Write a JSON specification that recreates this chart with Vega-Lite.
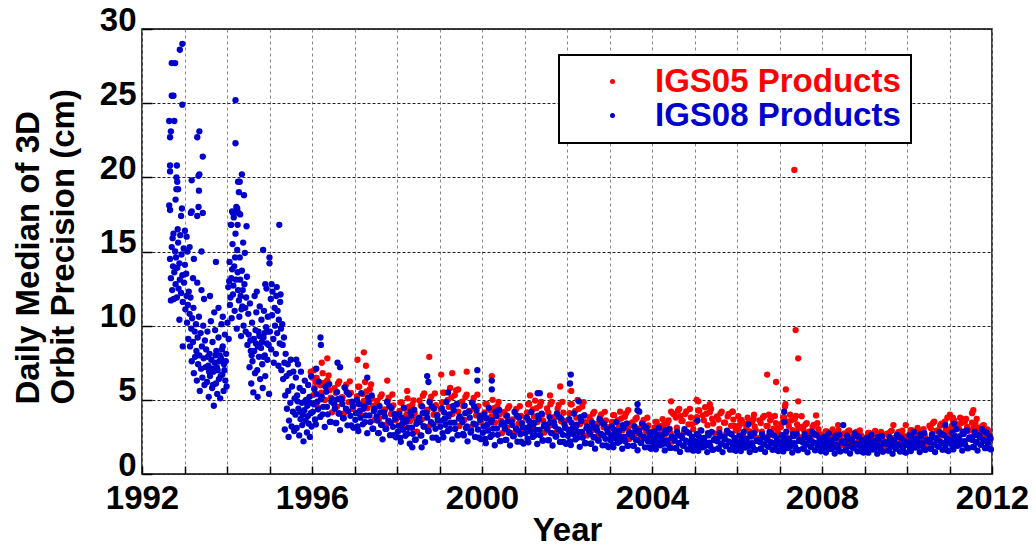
{
"$schema":"https://vega.github.io/schema/vega-lite/v6.json",
"width":850,"height":445,
"autosize":{"type":"none"},
"padding":{"left":142,"top":29,"right":44,"bottom":76},
"background":"white",
"config":{"view":{"stroke":"black","strokeWidth":1.5},"font":"Liberation Sans","legend":{"strokeWidth":2}},
"datasets":{
"r":[
{"x":1995.97,"y":6.9},{"x":1996.0,"y":6.5},{"x":1996.05,"y":7.0},{"x":1996.08,"y":6.2},{"x":1996.23,"y":7.5},{"x":1996.36,"y":7.8},{"x":1997.07,"y":7.7},{"x":1997.22,"y":8.2},{"x":1997.27,"y":7.3},{"x":1997.77,"y":6.3},{"x":1998.24,"y":5.6},{"x":1998.76,"y":7.9},{"x":1999.04,"y":6.7},{"x":1999.3,"y":6.8},{"x":1999.44,"y":5.7},{"x":1999.64,"y":6.9},{"x":2000.23,"y":6.6},{"x":2001.13,"y":5.3},{"x":2001.6,"y":5.3},{"x":2001.84,"y":5.9},{"x":2002.1,"y":5.6},{"x":2003.44,"y":4.3},{"x":2004.45,"y":4.9},{"x":2004.45,"y":4.2},{"x":2004.5,"y":4.05},{"x":2004.67,"y":3.9},{"x":2005.05,"y":5.0},{"x":2005.09,"y":4.9},{"x":2005.36,"y":4.7},{"x":2005.9,"y":4.2},{"x":2006.03,"y":3.9},{"x":2006.4,"y":4.0},{"x":2006.71,"y":6.7},{"x":2006.75,"y":4.0},{"x":2006.92,"y":6.2},{"x":2007.13,"y":4.55},{"x":2007.14,"y":4.7},{"x":2007.15,"y":5.7},{"x":2007.35,"y":20.5},{"x":2007.38,"y":9.7},{"x":2007.44,"y":7.8},{"x":2007.44,"y":4.9},{"x":2007.52,"y":3.9},{"x":2007.86,"y":3.95},{"x":2008.38,"y":3.3},{"x":2009.68,"y":3.3},{"x":2009.97,"y":3.3},{"x":2010.95,"y":3.8},{"x":2011.01,"y":4.0},{"x":2011.08,"y":3.8},{"x":2011.3,"y":3.7},{"x":2011.53,"y":4.1},{"x":2011.56,"y":4.3},
{"x":1996.03,"y":5.32},{"x":1996.085,"y":6.47},{"x":1996.14,"y":4.49},{"x":1996.195,"y":5.98},{"x":1996.25,"y":6.8},{"x":1996.305,"y":4.99},{"x":1996.36,"y":6.31},{"x":1996.415,"y":5.65},{"x":1996.47,"y":4.16},
{"x":1996.53,"y":5.78},{"x":1996.585,"y":4.54},{"x":1996.64,"y":6.25},{"x":1996.695,"y":5.16},{"x":1996.75,"y":4.08},{"x":1996.805,"y":6.03},{"x":1996.86,"y":4.85},{"x":1996.915,"y":5.47},{"x":1996.97,"y":4.39},
{"x":1997.03,"y":4.76},{"x":1997.085,"y":5.88},{"x":1997.14,"y":3.96},{"x":1997.195,"y":5.4},{"x":1997.25,"y":6.2},{"x":1997.305,"y":4.44},{"x":1997.36,"y":5.72},{"x":1997.415,"y":5.08},{"x":1997.47,"y":3.64},
{"x":1997.53,"y":4.92},{"x":1997.585,"y":3.76},{"x":1997.64,"y":5.36},{"x":1997.695,"y":4.34},{"x":1997.75,"y":3.33},{"x":1997.805,"y":5.15},{"x":1997.86,"y":4.05},{"x":1997.915,"y":4.63},{"x":1997.97,"y":3.62},
{"x":1998.03,"y":3.84},{"x":1998.085,"y":4.82},{"x":1998.14,"y":3.14},{"x":1998.195,"y":4.4},{"x":1998.25,"y":5.1},{"x":1998.305,"y":3.56},{"x":1998.36,"y":4.68},{"x":1998.415,"y":4.12},{"x":1998.47,"y":2.86},
{"x":1998.53,"y":4.96},{"x":1998.585,"y":3.68},{"x":1998.64,"y":5.44},{"x":1998.695,"y":4.32},{"x":1998.75,"y":3.2},{"x":1998.805,"y":5.22},{"x":1998.86,"y":4.0},{"x":1998.915,"y":4.64},{"x":1998.97,"y":3.52},
{"x":1999.03,"y":4.36},{"x":1999.085,"y":5.48},{"x":1999.14,"y":3.56},{"x":1999.195,"y":5.0},{"x":1999.25,"y":5.8},{"x":1999.305,"y":4.04},{"x":1999.36,"y":5.32},{"x":1999.415,"y":4.68},{"x":1999.47,"y":3.24},
{"x":1999.53,"y":4.88},{"x":1999.585,"y":3.64},{"x":1999.64,"y":5.35},{"x":1999.695,"y":4.26},{"x":1999.75,"y":3.18},{"x":1999.805,"y":5.13},{"x":1999.86,"y":3.95},{"x":1999.915,"y":4.57},{"x":1999.97,"y":3.49},
{"x":2000.03,"y":3.74},{"x":2000.085,"y":4.72},{"x":2000.14,"y":3.04},{"x":2000.195,"y":4.3},{"x":2000.25,"y":5.0},{"x":2000.305,"y":3.46},{"x":2000.36,"y":4.58},{"x":2000.415,"y":4.02},{"x":2000.47,"y":2.76},
{"x":2000.53,"y":4.18},{"x":2000.585,"y":3.14},{"x":2000.64,"y":4.57},{"x":2000.695,"y":3.66},{"x":2000.75,"y":2.75},{"x":2000.805,"y":4.39},{"x":2000.86,"y":3.4},{"x":2000.915,"y":3.92},{"x":2000.97,"y":3.01},
{"x":2001.03,"y":3.8},{"x":2001.085,"y":4.7},{"x":2001.14,"y":3.1},{"x":2001.195,"y":4.35},{"x":2001.25,"y":4.95},{"x":2001.305,"y":3.5},{"x":2001.36,"y":4.6},{"x":2001.415,"y":4.0},{"x":2001.47,"y":2.8},
{"x":2001.53,"y":4.42},{"x":2001.585,"y":3.26},{"x":2001.64,"y":4.86},{"x":2001.695,"y":3.84},{"x":2001.75,"y":2.83},{"x":2001.805,"y":4.65},{"x":2001.86,"y":3.55},{"x":2001.915,"y":4.13},{"x":2001.97,"y":3.12},
{"x":2002.03,"y":3.65},{"x":2002.085,"y":4.7},{"x":2002.14,"y":2.9},{"x":2002.195,"y":4.25},{"x":2002.25,"y":5.0},{"x":2002.305,"y":3.35},{"x":2002.36,"y":4.55},{"x":2002.415,"y":3.95},{"x":2002.47,"y":2.6},
{"x":2002.53,"y":3.84},{"x":2002.585,"y":2.92},{"x":2002.64,"y":4.19},{"x":2002.695,"y":3.38},{"x":2002.75,"y":2.58},{"x":2002.805,"y":4.02},{"x":2002.86,"y":3.15},{"x":2002.915,"y":3.61},{"x":2002.97,"y":2.81},
{"x":2003.03,"y":3.17},{"x":2003.085,"y":3.97},{"x":2003.14,"y":2.59},{"x":2003.195,"y":3.63},{"x":2003.25,"y":4.2},{"x":2003.305,"y":2.94},{"x":2003.36,"y":3.86},{"x":2003.415,"y":3.4},{"x":2003.47,"y":2.36},
{"x":2003.53,"y":3.48},{"x":2003.585,"y":2.64},{"x":2003.64,"y":3.8},{"x":2003.695,"y":3.06},{"x":2003.75,"y":2.33},{"x":2003.805,"y":3.65},{"x":2003.86,"y":2.85},{"x":2003.915,"y":3.27},{"x":2003.97,"y":2.54},
{"x":2004.03,"y":2.85},{"x":2004.085,"y":3.51},{"x":2004.14,"y":2.37},{"x":2004.195,"y":3.23},{"x":2004.25,"y":3.7},{"x":2004.305,"y":2.66},{"x":2004.36,"y":3.42},{"x":2004.415,"y":3.04},{"x":2004.47,"y":2.18},
{"x":2004.53,"y":4.04},{"x":2004.585,"y":3.12},{"x":2004.64,"y":4.39},{"x":2004.695,"y":3.58},{"x":2004.75,"y":2.78},{"x":2004.805,"y":4.22},{"x":2004.86,"y":3.35},{"x":2004.915,"y":3.81},{"x":2004.97,"y":3.01},
{"x":2005.03,"y":3.51},{"x":2005.085,"y":4.28},{"x":2005.14,"y":2.96},{"x":2005.195,"y":3.95},{"x":2005.25,"y":4.5},{"x":2005.305,"y":3.29},{"x":2005.36,"y":4.17},{"x":2005.415,"y":3.73},{"x":2005.47,"y":2.74},
{"x":2005.53,"y":3.88},{"x":2005.585,"y":3.04},{"x":2005.64,"y":4.2},{"x":2005.695,"y":3.46},{"x":2005.75,"y":2.73},{"x":2005.805,"y":4.05},{"x":2005.86,"y":3.25},{"x":2005.915,"y":3.67},{"x":2005.97,"y":2.94},
{"x":2006.03,"y":3.04},{"x":2006.085,"y":3.63},{"x":2006.14,"y":2.61},{"x":2006.195,"y":3.38},{"x":2006.25,"y":3.8},{"x":2006.305,"y":2.87},{"x":2006.36,"y":3.55},{"x":2006.415,"y":3.21},{"x":2006.47,"y":2.44},
{"x":2006.53,"y":3.62},{"x":2006.585,"y":2.86},{"x":2006.64,"y":3.91},{"x":2006.695,"y":3.24},{"x":2006.75,"y":2.58},{"x":2006.805,"y":3.77},{"x":2006.86,"y":3.05},{"x":2006.915,"y":3.43},{"x":2006.97,"y":2.77},
{"x":2007.03,"y":3.15},{"x":2007.085,"y":3.81},{"x":2007.14,"y":2.67},{"x":2007.195,"y":3.53},{"x":2007.25,"y":4.0},{"x":2007.305,"y":2.96},{"x":2007.36,"y":3.72},{"x":2007.415,"y":3.34},{"x":2007.47,"y":2.48},
{"x":2007.53,"y":3.18},{"x":2007.585,"y":2.54},{"x":2007.64,"y":3.42},{"x":2007.695,"y":2.86},{"x":2007.75,"y":2.3},{"x":2007.805,"y":3.31},{"x":2007.86,"y":2.7},{"x":2007.915,"y":3.02},{"x":2007.97,"y":2.46},
{"x":2008.03,"y":2.42},{"x":2008.085,"y":2.87},{"x":2008.14,"y":2.09},{"x":2008.195,"y":2.68},{"x":2008.25,"y":3.0},{"x":2008.305,"y":2.29},{"x":2008.36,"y":2.81},{"x":2008.415,"y":2.55},{"x":2008.47,"y":1.96},
{"x":2008.53,"y":2.74},{"x":2008.585,"y":2.22},{"x":2008.64,"y":2.94},{"x":2008.695,"y":2.48},{"x":2008.75,"y":2.03},{"x":2008.805,"y":2.84},{"x":2008.86,"y":2.35},{"x":2008.915,"y":2.61},{"x":2008.97,"y":2.16},
{"x":2009.03,"y":2.32},{"x":2009.085,"y":2.77},{"x":2009.14,"y":1.99},{"x":2009.195,"y":2.58},{"x":2009.25,"y":2.9},{"x":2009.305,"y":2.19},{"x":2009.36,"y":2.71},{"x":2009.415,"y":2.45},{"x":2009.47,"y":1.86},
{"x":2009.53,"y":2.72},{"x":2009.585,"y":2.16},{"x":2009.64,"y":2.93},{"x":2009.695,"y":2.44},{"x":2009.75,"y":1.95},{"x":2009.805,"y":2.83},{"x":2009.86,"y":2.3},{"x":2009.915,"y":2.58},{"x":2009.97,"y":2.09},
{"x":2010.03,"y":2.47},{"x":2010.085,"y":2.96},{"x":2010.14,"y":2.12},{"x":2010.195,"y":2.75},{"x":2010.25,"y":3.1},{"x":2010.305,"y":2.33},{"x":2010.36,"y":2.89},{"x":2010.415,"y":2.61},{"x":2010.47,"y":1.98},
{"x":2010.53,"y":3.26},{"x":2010.585,"y":2.58},{"x":2010.64,"y":3.52},{"x":2010.695,"y":2.92},{"x":2010.75,"y":2.33},{"x":2010.805,"y":3.4},{"x":2010.86,"y":2.75},{"x":2010.915,"y":3.09},{"x":2010.97,"y":2.5},
{"x":2011.03,"y":2.99},{"x":2011.085,"y":3.62},{"x":2011.14,"y":2.54},{"x":2011.195,"y":3.35},{"x":2011.25,"y":3.8},{"x":2011.305,"y":2.81},{"x":2011.36,"y":3.53},{"x":2011.415,"y":3.17},{"x":2011.47,"y":2.36},
{"x":2011.53,"y":3.46},{"x":2011.585,"y":2.78},{"x":2011.64,"y":3.72},{"x":2011.695,"y":3.12},{"x":2011.75,"y":2.53},{"x":2011.805,"y":3.3},{"x":2011.86,"y":2.65},{"x":2011.915,"y":2.9},{"x":2011.97,"y":2.4},
{"x":1996.06,"y":5.81},{"x":1996.11,"y":6.47},{"x":1996.22,"y":5.48},{"x":1996.28,"y":6.14},{"x":1996.39,"y":6.64},{"x":1996.44,"y":5.15},
{"x":1996.56,"y":5.47},{"x":1996.61,"y":6.09},{"x":1996.72,"y":5.16},{"x":1996.78,"y":5.78},{"x":1996.89,"y":6.25},{"x":1996.94,"y":4.85},
{"x":1997.06,"y":5.24},{"x":1997.11,"y":5.88},{"x":1997.22,"y":4.92},{"x":1997.28,"y":5.56},{"x":1997.39,"y":6.04},{"x":1997.44,"y":4.6},
{"x":1997.56,"y":4.63},{"x":1997.61,"y":5.21},{"x":1997.72,"y":4.34},{"x":1997.78,"y":4.92},{"x":1997.89,"y":5.36},{"x":1997.94,"y":4.05},
{"x":1998.06,"y":4.26},{"x":1998.11,"y":4.82},{"x":1998.22,"y":3.98},{"x":1998.28,"y":4.54},{"x":1998.39,"y":4.96},{"x":1998.44,"y":3.7},
{"x":1998.56,"y":4.64},{"x":1998.61,"y":5.28},{"x":1998.72,"y":4.32},{"x":1998.78,"y":4.96},{"x":1998.89,"y":5.44},{"x":1998.94,"y":4.0},
{"x":1999.06,"y":4.84},{"x":1999.11,"y":5.48},{"x":1999.22,"y":4.52},{"x":1999.28,"y":5.16},{"x":1999.39,"y":5.64},{"x":1999.44,"y":4.2},
{"x":1999.56,"y":4.57},{"x":1999.61,"y":5.19},{"x":1999.72,"y":4.26},{"x":1999.78,"y":4.88},{"x":1999.89,"y":5.35},{"x":1999.94,"y":3.95},
{"x":2000.06,"y":4.16},{"x":2000.11,"y":4.72},{"x":2000.22,"y":3.88},{"x":2000.28,"y":4.44},{"x":2000.39,"y":4.86},{"x":2000.44,"y":3.6},
{"x":2000.56,"y":3.92},{"x":2000.61,"y":4.44},{"x":2000.72,"y":3.66},{"x":2000.78,"y":4.18},{"x":2000.89,"y":4.57},{"x":2000.94,"y":3.4},
{"x":2001.06,"y":4.16},{"x":2001.11,"y":4.72},{"x":2001.22,"y":3.88},{"x":2001.28,"y":4.44},{"x":2001.39,"y":4.86},{"x":2001.44,"y":3.6},
{"x":2001.56,"y":4.13},{"x":2001.61,"y":4.71},{"x":2001.72,"y":3.84},{"x":2001.78,"y":4.42},{"x":2001.89,"y":4.86},{"x":2001.94,"y":3.55},
{"x":2002.06,"y":4.1},{"x":2002.11,"y":4.7},{"x":2002.22,"y":3.8},{"x":2002.28,"y":4.4},{"x":2002.39,"y":4.85},{"x":2002.44,"y":3.5},
{"x":2002.56,"y":3.61},{"x":2002.61,"y":4.07},{"x":2002.72,"y":3.38},{"x":2002.78,"y":3.84},{"x":2002.89,"y":4.19},{"x":2002.94,"y":3.15},
{"x":2003.06,"y":3.51},{"x":2003.11,"y":3.97},{"x":2003.22,"y":3.28},{"x":2003.28,"y":3.74},{"x":2003.39,"y":4.09},{"x":2003.44,"y":3.05},
{"x":2003.56,"y":3.27},{"x":2003.61,"y":3.69},{"x":2003.72,"y":3.06},{"x":2003.78,"y":3.48},{"x":2003.89,"y":3.8},{"x":2003.94,"y":2.85},
{"x":2004.06,"y":3.13},{"x":2004.11,"y":3.51},{"x":2004.22,"y":2.94},{"x":2004.28,"y":3.32},{"x":2004.39,"y":3.61},{"x":2004.44,"y":2.75},
{"x":2004.56,"y":3.81},{"x":2004.61,"y":4.27},{"x":2004.72,"y":3.58},{"x":2004.78,"y":4.04},{"x":2004.89,"y":4.39},{"x":2004.94,"y":3.35},
{"x":2005.06,"y":3.84},{"x":2005.11,"y":4.28},{"x":2005.22,"y":3.62},{"x":2005.28,"y":4.06},{"x":2005.39,"y":4.39},{"x":2005.44,"y":3.4},
{"x":2005.56,"y":3.67},{"x":2005.61,"y":4.09},{"x":2005.72,"y":3.46},{"x":2005.78,"y":3.88},{"x":2005.89,"y":4.2},{"x":2005.94,"y":3.25},
{"x":2006.06,"y":3.29},{"x":2006.11,"y":3.63},{"x":2006.22,"y":3.12},{"x":2006.28,"y":3.46},{"x":2006.39,"y":3.72},{"x":2006.44,"y":2.95},
{"x":2006.56,"y":3.43},{"x":2006.61,"y":3.81},{"x":2006.72,"y":3.24},{"x":2006.78,"y":3.62},{"x":2006.89,"y":3.91},{"x":2006.94,"y":3.05},
{"x":2007.06,"y":3.43},{"x":2007.11,"y":3.81},{"x":2007.22,"y":3.24},{"x":2007.28,"y":3.62},{"x":2007.39,"y":3.91},{"x":2007.44,"y":3.05},
{"x":2007.56,"y":3.02},{"x":2007.61,"y":3.34},{"x":2007.72,"y":2.86},{"x":2007.78,"y":3.18},{"x":2007.89,"y":3.42},{"x":2007.94,"y":2.7},
{"x":2008.06,"y":2.61},{"x":2008.11,"y":2.87},{"x":2008.22,"y":2.48},{"x":2008.28,"y":2.74},{"x":2008.39,"y":2.94},{"x":2008.44,"y":2.35},
{"x":2008.56,"y":2.61},{"x":2008.61,"y":2.87},{"x":2008.72,"y":2.48},{"x":2008.78,"y":2.74},{"x":2008.89,"y":2.94},{"x":2008.94,"y":2.35},
{"x":2009.06,"y":2.51},{"x":2009.11,"y":2.77},{"x":2009.22,"y":2.38},{"x":2009.28,"y":2.64},{"x":2009.39,"y":2.84},{"x":2009.44,"y":2.25},
{"x":2009.56,"y":2.58},{"x":2009.61,"y":2.86},{"x":2009.72,"y":2.44},{"x":2009.78,"y":2.72},{"x":2009.89,"y":2.93},{"x":2009.94,"y":2.3},
{"x":2010.06,"y":2.68},{"x":2010.11,"y":2.96},{"x":2010.22,"y":2.54},{"x":2010.28,"y":2.82},{"x":2010.39,"y":3.03},{"x":2010.44,"y":2.4},
{"x":2010.56,"y":3.09},{"x":2010.61,"y":3.43},{"x":2010.72,"y":2.92},{"x":2010.78,"y":3.26},{"x":2010.89,"y":3.52},{"x":2010.94,"y":2.75},
{"x":2011.06,"y":3.26},{"x":2011.11,"y":3.62},{"x":2011.22,"y":3.08},{"x":2011.28,"y":3.44},{"x":2011.39,"y":3.71},{"x":2011.44,"y":2.9},
{"x":2011.56,"y":3.09},{"x":2011.61,"y":3.43},{"x":2011.72,"y":2.92},{"x":2011.78,"y":3.26},{"x":2011.89,"y":3.0},{"x":2011.94,"y":2.6}
],
"b":[
{"x":1992.95,"y":29.0},{"x":1992.89,"y":28.6},{"x":1992.7,"y":27.7},{"x":1992.78,"y":27.7},{"x":1992.7,"y":25.5},{"x":1992.74,"y":25.5},{"x":1992.95,"y":24.9},{"x":1992.64,"y":23.8},{"x":1992.76,"y":23.8},{"x":1992.68,"y":23.1},{"x":1992.66,"y":22.7},{"x":1993.35,"y":23.1},{"x":1993.3,"y":22.7},{"x":1993.43,"y":21.4},{"x":1992.66,"y":20.8},{"x":1992.82,"y":20.8},{"x":1992.66,"y":20.4},{"x":1992.81,"y":20.0},{"x":1992.83,"y":19.7},{"x":1993.17,"y":19.8},{"x":1993.33,"y":20.1},{"x":1993.35,"y":20.2},{"x":1992.85,"y":19.2},{"x":1992.81,"y":19.2},{"x":1993.34,"y":19.1},{"x":1992.79,"y":18.5},{"x":1992.64,"y":18.1},{"x":1992.66,"y":17.8},{"x":1992.94,"y":17.9},{"x":1993.15,"y":17.6},{"x":1993.17,"y":17.7},{"x":1993.33,"y":18.0},{"x":1993.43,"y":17.6},{"x":1993.3,"y":17.4},{"x":1992.92,"y":17.4},{"x":1994.2,"y":25.2},{"x":1994.2,"y":22.3},{"x":1994.35,"y":20.2},{"x":1994.26,"y":19.7},{"x":1994.3,"y":19.7},{"x":1994.28,"y":19.0},{"x":1994.4,"y":18.8},{"x":1994.14,"y":17.6},{"x":1994.24,"y":17.9},{"x":1994.31,"y":17.5},{"x":1994.1,"y":16.8},{"x":1994.25,"y":16.8},{"x":1994.46,"y":16.7},{"x":1995.23,"y":16.8},{"x":1993.74,"y":14.3},{"x":1994.85,"y":15.1},{"x":1995.0,"y":14.6},{"x":1995.0,"y":14.2},{"x":1993.01,"y":16.4},{"x":1993.4,"y":15.0},{"x":1993.22,"y":14.5},{"x":1993.12,"y":15.3},{"x":1993.05,"y":16.0},
{"x":1992.66,"y":14.5},{"x":1992.68,"y":13.2},{"x":1992.7,"y":15.3},{"x":1992.71,"y":12.4},{"x":1992.73,"y":14.0},{"x":1992.74,"y":16.2},{"x":1992.75,"y":11.8},{"x":1992.76,"y":13.6},{"x":1992.78,"y":15.0},{"x":1992.79,"y":12.8},{"x":1992.8,"y":14.6},{"x":1992.82,"y":11.9},{"x":1992.83,"y":13.9},{"x":1992.85,"y":15.6},{"x":1992.86,"y":12.5},{"x":1992.88,"y":14.2},{"x":1992.89,"y":13.1},{"x":1992.9,"y":16.1},{"x":1992.92,"y":12.2},{"x":1992.93,"y":14.8},{"x":1992.95,"y":13.4},{"x":1992.96,"y":11.6},{"x":1992.98,"y":15.2},{"x":1992.99,"y":12.9},{"x":1993.01,"y":14.1},{"x":1993.02,"y":11.1},{"x":1993.04,"y":13.5},{"x":1993.05,"y":12.0},{"x":1993.07,"y":15.0},{"x":1992.68,"y":11.7},{"x":1992.88,"y":10.4},{"x":1992.96,"y":8.6},{"x":1992.72,"y":15.9},{"x":1992.84,"y":16.5},
{"x":1993.06,"y":10.2},{"x":1993.08,"y":11.4},{"x":1993.09,"y":9.1},{"x":1993.1,"y":12.3},{"x":1993.12,"y":10.8},{"x":1993.13,"y":8.6},{"x":1993.14,"y":11.9},{"x":1993.16,"y":9.8},{"x":1993.17,"y":7.6},{"x":1993.18,"y":10.5},{"x":1993.2,"y":8.9},{"x":1993.21,"y":11.2},{"x":1993.22,"y":6.8},{"x":1993.24,"y":9.6},{"x":1993.25,"y":7.9},{"x":1993.27,"y":10.1},{"x":1993.28,"y":8.3},{"x":1993.29,"y":6.3},{"x":1993.31,"y":9.2},{"x":1993.32,"y":7.4},{"x":1993.34,"y":10.6},{"x":1993.35,"y":8.0},{"x":1993.36,"y":5.6},{"x":1993.38,"y":9.5},{"x":1993.39,"y":7.1},{"x":1993.41,"y":8.6},{"x":1993.42,"y":6.5},{"x":1993.44,"y":10.0},{"x":1993.45,"y":7.8},{"x":1993.47,"y":6.0},{"x":1993.48,"y":9.0},{"x":1993.5,"y":7.2},{"x":1993.4,"y":12.4},{"x":1993.3,"y":12.9},{"x":1993.2,"y":13.2},{"x":1993.46,"y":11.8},
{"x":1993.51,"y":8.4},{"x":1993.53,"y":6.2},{"x":1993.54,"y":9.6},{"x":1993.56,"y":7.3},{"x":1993.57,"y":5.2},{"x":1993.59,"y":8.1},{"x":1993.6,"y":6.6},{"x":1993.62,"y":10.3},{"x":1993.63,"y":7.7},{"x":1993.65,"y":5.8},{"x":1993.66,"y":8.9},{"x":1993.68,"y":6.9},{"x":1993.69,"y":4.6},{"x":1993.71,"y":7.5},{"x":1993.72,"y":9.7},{"x":1993.74,"y":6.1},{"x":1993.75,"y":8.3},{"x":1993.77,"y":5.4},{"x":1993.78,"y":7.0},{"x":1993.8,"y":9.2},{"x":1993.81,"y":6.4},{"x":1993.83,"y":8.0},{"x":1993.84,"y":5.1},{"x":1993.86,"y":7.8},{"x":1993.87,"y":10.1},{"x":1993.89,"y":6.7},{"x":1993.9,"y":8.6},{"x":1993.92,"y":5.6},{"x":1993.93,"y":7.4},{"x":1993.95,"y":9.4},{"x":1993.96,"y":6.3},{"x":1993.98,"y":8.1},{"x":1993.99,"y":5.9},{"x":1993.6,"y":12.0},{"x":1993.8,"y":11.2},{"x":1993.7,"y":10.9},{"x":1993.9,"y":10.6},
{"x":1993.55,"y":7.9},{"x":1993.58,"y":6.9},{"x":1993.64,"y":7.1},{"x":1993.67,"y":6.0},{"x":1993.73,"y":8.0},{"x":1993.76,"y":7.2},{"x":1993.82,"y":7.6},{"x":1993.85,"y":6.6},{"x":1993.88,"y":8.4},{"x":1993.94,"y":7.0},{"x":1993.97,"y":7.6},
{"x":1994.01,"y":10.2},{"x":1994.03,"y":12.6},{"x":1994.04,"y":9.1},{"x":1994.06,"y":14.3},{"x":1994.07,"y":11.4},{"x":1994.09,"y":16.8},{"x":1994.1,"y":13.2},{"x":1994.11,"y":10.5},{"x":1994.13,"y":15.5},{"x":1994.14,"y":12.1},{"x":1994.16,"y":17.3},{"x":1994.17,"y":14.0},{"x":1994.18,"y":11.0},{"x":1994.2,"y":16.2},{"x":1994.21,"y":13.1},{"x":1994.23,"y":9.8},{"x":1994.24,"y":15.1},{"x":1994.26,"y":12.4},{"x":1994.27,"y":17.6},{"x":1994.29,"y":10.6},{"x":1994.3,"y":14.6},{"x":1994.32,"y":12.0},{"x":1994.33,"y":9.3},{"x":1994.35,"y":13.7},{"x":1994.36,"y":11.3},{"x":1994.38,"y":15.6},{"x":1994.39,"y":10.0},{"x":1994.41,"y":12.8},{"x":1994.42,"y":14.9},{"x":1994.44,"y":9.6},{"x":1994.45,"y":11.9},{"x":1994.47,"y":13.3},{"x":1994.48,"y":8.7},{"x":1994.5,"y":10.8},{"x":1994.22,"y":18.0},{"x":1994.12,"y":17.7},
{"x":1994.05,"y":13.0},{"x":1994.08,"y":11.9},{"x":1994.12,"y":13.8},{"x":1994.15,"y":12.7},{"x":1994.19,"y":14.6},{"x":1994.25,"y":13.6},{"x":1994.28,"y":11.7},{"x":1994.31,"y":13.1},{"x":1994.34,"y":11.1},{"x":1994.37,"y":12.4},{"x":1994.43,"y":11.2},
{"x":1994.51,"y":9.4},{"x":1994.53,"y":7.2},{"x":1994.54,"y":11.5},{"x":1994.56,"y":8.3},{"x":1994.57,"y":6.1},{"x":1994.59,"y":10.2},{"x":1994.6,"y":7.6},{"x":1994.62,"y":5.5},{"x":1994.63,"y":9.1},{"x":1994.65,"y":12.0},{"x":1994.66,"y":6.8},{"x":1994.68,"y":8.8},{"x":1994.69,"y":10.9},{"x":1994.71,"y":7.0},{"x":1994.72,"y":5.2},{"x":1994.74,"y":9.6},{"x":1994.75,"y":7.9},{"x":1994.77,"y":11.3},{"x":1994.78,"y":6.4},{"x":1994.8,"y":8.5},{"x":1994.81,"y":10.4},{"x":1994.83,"y":7.4},{"x":1994.84,"y":5.8},{"x":1994.86,"y":9.2},{"x":1994.87,"y":11.0},{"x":1994.89,"y":8.0},{"x":1994.9,"y":6.6},{"x":1994.92,"y":9.9},{"x":1994.93,"y":12.5},{"x":1994.95,"y":7.7},{"x":1994.96,"y":10.6},{"x":1994.98,"y":8.7},{"x":1994.99,"y":5.4},{"x":1994.7,"y":12.3},{"x":1994.9,"y":12.8},
{"x":1994.55,"y":9.0},{"x":1994.58,"y":8.0},{"x":1994.64,"y":8.3},{"x":1994.67,"y":9.7},{"x":1994.73,"y":8.6},{"x":1994.76,"y":9.3},{"x":1994.82,"y":8.9},{"x":1994.85,"y":7.9},{"x":1994.88,"y":9.5},{"x":1994.94,"y":8.8},{"x":1994.97,"y":9.6},
{"x":1995.01,"y":9.6},{"x":1995.03,"y":11.8},{"x":1995.04,"y":8.4},{"x":1995.06,"y":10.7},{"x":1995.07,"y":12.3},{"x":1995.09,"y":9.1},{"x":1995.1,"y":7.5},{"x":1995.12,"y":11.2},{"x":1995.13,"y":10.0},{"x":1995.15,"y":8.1},{"x":1995.16,"y":12.0},{"x":1995.18,"y":9.5},{"x":1995.19,"y":11.0},{"x":1995.21,"y":7.3},{"x":1995.22,"y":10.4},{"x":1995.24,"y":8.8},{"x":1995.25,"y":11.6},{"x":1995.27,"y":9.8},{"x":1995.28,"y":7.0},{"x":1995.3,"y":10.1},{"x":1995.05,"y":12.8},{"x":1995.17,"y":12.6},{"x":1995.26,"y":12.1},
{"x":1995.31,"y":8.7},{"x":1995.32,"y":6.4},{"x":1995.34,"y":9.2},{"x":1995.35,"y":7.5},{"x":1995.37,"y":5.3},{"x":1995.38,"y":8.1},{"x":1995.4,"y":6.6},{"x":1995.41,"y":4.4},{"x":1995.43,"y":7.4},{"x":1995.44,"y":5.6},{"x":1995.46,"y":3.6},{"x":1995.47,"y":6.8},{"x":1995.49,"y":4.8},{"x":1995.5,"y":7.7},{"x":1995.52,"y":3.2},{"x":1995.53,"y":5.9},{"x":1995.55,"y":4.2},{"x":1995.56,"y":6.9},{"x":1995.58,"y":2.9},{"x":1995.59,"y":5.1},{"x":1995.36,"y":3.0},{"x":1995.45,"y":2.5},
{"x":1995.61,"y":4.0},{"x":1995.62,"y":6.5},{"x":1995.64,"y":3.1},{"x":1995.65,"y":5.3},{"x":1995.67,"y":7.4},{"x":1995.68,"y":4.4},{"x":1995.7,"y":2.6},{"x":1995.71,"y":5.8},{"x":1995.73,"y":3.7},{"x":1995.74,"y":6.9},{"x":1995.76,"y":4.8},{"x":1995.77,"y":3.3},{"x":1995.79,"y":5.6},{"x":1995.8,"y":2.2},{"x":1995.82,"y":4.3},{"x":1995.83,"y":6.3},{"x":1995.85,"y":3.6},{"x":1995.86,"y":5.0},{"x":1995.88,"y":2.8},{"x":1995.89,"y":4.6},{"x":1995.91,"y":6.0},{"x":1995.92,"y":3.4},{"x":1995.94,"y":5.2},{"x":1995.95,"y":2.5},{"x":1995.97,"y":4.1},{"x":1995.98,"y":6.6},{"x":1995.99,"y":3.2},{"x":1995.63,"y":7.7},
{"x":1995.66,"y":4.9},{"x":1995.72,"y":4.2},{"x":1995.78,"y":4.0},{"x":1995.84,"y":4.9},{"x":1995.9,"y":3.9},{"x":1995.96,"y":4.8},
{"x":1996.2,"y":9.2},{"x":1996.21,"y":8.7},{"x":1996.1,"y":7.1},{"x":1996.6,"y":7.5},{"x":1996.66,"y":7.2},{"x":1997.3,"y":6.5},{"x":1998.71,"y":6.6},{"x":1998.74,"y":6.2},{"x":1999.89,"y":7.0},{"x":1999.89,"y":6.3},{"x":2000.23,"y":6.3},{"x":2000.23,"y":5.7},{"x":2001.31,"y":5.45},{"x":2001.36,"y":5.45},{"x":2002.09,"y":6.7},{"x":2002.07,"y":6.1},{"x":2002.28,"y":4.9},{"x":2003.66,"y":4.7},{"x":2003.66,"y":4.3},{"x":2003.7,"y":4.2},{"x":2005.07,"y":3.6},{"x":2006.27,"y":3.35},{"x":2007.11,"y":4.2},{"x":2007.11,"y":3.5},{"x":2008.5,"y":3.3},{"x":2010.9,"y":3.3},{"x":2011.1,"y":3.4},{"x":1999.2,"y":5.5},{"x":1998.36,"y":1.8},{"x":1998.58,"y":1.8},
{"x":1996.02,"y":4.19},{"x":1996.055,"y":5.72},{"x":1996.09,"y":3.34},{"x":1996.125,"y":4.87},{"x":1996.16,"y":6.23},{"x":1996.195,"y":3.85},{"x":1996.23,"y":5.21},{"x":1996.265,"y":4.53},{"x":1996.3,"y":3.17},{"x":1996.335,"y":5.55},{"x":1996.37,"y":4.02},{"x":1996.405,"y":6.06},{"x":1996.44,"y":3.51},{"x":1996.475,"y":5.04},
{"x":1996.52,"y":4.72},{"x":1996.555,"y":3.44},{"x":1996.59,"y":5.52},{"x":1996.625,"y":4.08},{"x":1996.66,"y":2.96},{"x":1996.695,"y":5.04},{"x":1996.73,"y":3.76},{"x":1996.765,"y":5.84},{"x":1996.8,"y":4.4},{"x":1996.835,"y":3.28},{"x":1996.87,"y":5.36},{"x":1996.905,"y":3.92},{"x":1996.94,"y":4.88},{"x":1996.975,"y":3.12},
{"x":1997.02,"y":3.65},{"x":1997.055,"y":5.0},{"x":1997.09,"y":2.9},{"x":1997.125,"y":4.25},{"x":1997.16,"y":5.45},{"x":1997.195,"y":3.35},{"x":1997.23,"y":4.55},{"x":1997.265,"y":3.95},{"x":1997.3,"y":2.75},{"x":1997.335,"y":4.85},{"x":1997.37,"y":3.5},{"x":1997.405,"y":5.3},{"x":1997.44,"y":3.05},{"x":1997.475,"y":4.4},
{"x":1997.52,"y":3.88},{"x":1997.555,"y":2.76},{"x":1997.59,"y":4.58},{"x":1997.625,"y":3.32},{"x":1997.66,"y":2.34},{"x":1997.695,"y":4.16},{"x":1997.73,"y":3.04},{"x":1997.765,"y":4.86},{"x":1997.8,"y":3.6},{"x":1997.835,"y":2.62},{"x":1997.87,"y":4.44},{"x":1997.905,"y":3.18},{"x":1997.94,"y":4.02},{"x":1997.975,"y":2.48},
{"x":1998.02,"y":2.85},{"x":1998.055,"y":4.06},{"x":1998.09,"y":2.17},{"x":1998.125,"y":3.39},{"x":1998.16,"y":4.47},{"x":1998.195,"y":2.58},{"x":1998.23,"y":3.66},{"x":1998.265,"y":3.12},{"x":1998.3,"y":2.04},{"x":1998.335,"y":3.93},{"x":1998.37,"y":2.71},{"x":1998.405,"y":4.33},{"x":1998.44,"y":2.31},{"x":1998.475,"y":3.52},
{"x":1998.52,"y":3.8},{"x":1998.555,"y":2.6},{"x":1998.59,"y":4.55},{"x":1998.625,"y":3.2},{"x":1998.66,"y":2.15},{"x":1998.695,"y":4.1},{"x":1998.73,"y":2.9},{"x":1998.765,"y":4.85},{"x":1998.8,"y":3.5},{"x":1998.835,"y":2.45},{"x":1998.87,"y":4.4},{"x":1998.905,"y":3.05},{"x":1998.94,"y":3.95},{"x":1998.975,"y":2.3},
{"x":1999.02,"y":3.18},{"x":1999.055,"y":4.44},{"x":1999.09,"y":2.48},{"x":1999.125,"y":3.74},{"x":1999.16,"y":4.86},{"x":1999.195,"y":2.9},{"x":1999.23,"y":4.02},{"x":1999.265,"y":3.46},{"x":1999.3,"y":2.34},{"x":1999.335,"y":4.3},{"x":1999.37,"y":3.04},{"x":1999.405,"y":4.72},{"x":1999.44,"y":2.62},{"x":1999.475,"y":3.88},
{"x":1999.52,"y":3.7},{"x":1999.555,"y":2.7},{"x":1999.59,"y":4.6},{"x":1999.625,"y":3.1},{"x":1999.66,"y":2.2},{"x":1999.695,"y":4.2},{"x":1999.73,"y":2.8},{"x":1999.765,"y":4.8},{"x":1999.8,"y":3.4},{"x":1999.835,"y":2.5},{"x":1999.87,"y":4.3},{"x":1999.905,"y":3.0},{"x":1999.94,"y":3.9},{"x":1999.975,"y":2.35},
{"x":2000.02,"y":2.78},{"x":2000.055,"y":4.04},{"x":2000.09,"y":2.08},{"x":2000.125,"y":3.34},{"x":2000.16,"y":4.46},{"x":2000.195,"y":2.5},{"x":2000.23,"y":3.62},{"x":2000.265,"y":3.06},{"x":2000.3,"y":1.94},{"x":2000.335,"y":3.9},{"x":2000.37,"y":2.64},{"x":2000.405,"y":4.32},{"x":2000.44,"y":2.22},{"x":2000.475,"y":3.48},
{"x":2000.52,"y":3.3},{"x":2000.555,"y":2.3},{"x":2000.59,"y":3.93},{"x":2000.625,"y":2.8},{"x":2000.66,"y":1.93},{"x":2000.695,"y":3.55},{"x":2000.73,"y":2.55},{"x":2000.765,"y":4.18},{"x":2000.8,"y":3.05},{"x":2000.835,"y":2.18},{"x":2000.87,"y":3.8},{"x":2000.905,"y":2.68},{"x":2000.94,"y":3.43},{"x":2000.975,"y":2.05},
{"x":2001.02,"y":2.74},{"x":2001.055,"y":3.82},{"x":2001.09,"y":2.14},{"x":2001.125,"y":3.22},{"x":2001.16,"y":4.18},{"x":2001.195,"y":2.5},{"x":2001.23,"y":3.46},{"x":2001.265,"y":2.98},{"x":2001.3,"y":2.02},{"x":2001.335,"y":3.7},{"x":2001.37,"y":2.62},{"x":2001.405,"y":4.06},{"x":2001.44,"y":2.26},{"x":2001.475,"y":3.34},
{"x":2001.52,"y":3.24},{"x":2001.555,"y":2.28},{"x":2001.59,"y":3.84},{"x":2001.625,"y":2.76},{"x":2001.66,"y":1.92},{"x":2001.695,"y":3.48},{"x":2001.73,"y":2.52},{"x":2001.765,"y":4.08},{"x":2001.8,"y":3.0},{"x":2001.835,"y":2.16},{"x":2001.87,"y":3.72},{"x":2001.905,"y":2.64},{"x":2001.94,"y":3.36},{"x":2001.975,"y":2.04},
{"x":2002.02,"y":2.58},{"x":2002.055,"y":3.7},{"x":2002.09,"y":1.95},{"x":2002.125,"y":3.08},{"x":2002.16,"y":4.08},{"x":2002.195,"y":2.33},{"x":2002.23,"y":3.33},{"x":2002.265,"y":2.83},{"x":2002.3,"y":1.83},{"x":2002.335,"y":3.58},{"x":2002.37,"y":2.45},{"x":2002.405,"y":3.95},{"x":2002.44,"y":2.08},{"x":2002.475,"y":3.2},
{"x":2002.52,"y":2.92},{"x":2002.555,"y":2.04},{"x":2002.59,"y":3.47},{"x":2002.625,"y":2.48},{"x":2002.66,"y":1.71},{"x":2002.695,"y":3.14},{"x":2002.73,"y":2.26},{"x":2002.765,"y":3.69},{"x":2002.8,"y":2.7},{"x":2002.835,"y":1.93},{"x":2002.87,"y":3.36},{"x":2002.905,"y":2.37},{"x":2002.94,"y":3.03},{"x":2002.975,"y":1.82},
{"x":2003.02,"y":2.3},{"x":2003.055,"y":3.2},{"x":2003.09,"y":1.8},{"x":2003.125,"y":2.7},{"x":2003.16,"y":3.5},{"x":2003.195,"y":2.1},{"x":2003.23,"y":2.9},{"x":2003.265,"y":2.5},{"x":2003.3,"y":1.7},{"x":2003.335,"y":3.1},{"x":2003.37,"y":2.2},{"x":2003.405,"y":3.4},{"x":2003.44,"y":1.9},{"x":2003.475,"y":2.8},
{"x":2003.52,"y":2.7},{"x":2003.555,"y":1.9},{"x":2003.59,"y":3.2},{"x":2003.625,"y":2.3},{"x":2003.66,"y":1.6},{"x":2003.695,"y":2.9},{"x":2003.73,"y":2.1},{"x":2003.765,"y":3.4},{"x":2003.8,"y":2.5},{"x":2003.835,"y":1.8},{"x":2003.87,"y":3.1},{"x":2003.905,"y":2.2},{"x":2003.94,"y":2.8},{"x":2003.975,"y":1.7},
{"x":2004.02,"y":2.1},{"x":2004.055,"y":2.86},{"x":2004.09,"y":1.67},{"x":2004.125,"y":2.44},{"x":2004.16,"y":3.12},{"x":2004.195,"y":1.93},{"x":2004.23,"y":2.61},{"x":2004.265,"y":2.27},{"x":2004.3,"y":1.59},{"x":2004.335,"y":2.78},{"x":2004.37,"y":2.01},{"x":2004.405,"y":3.03},{"x":2004.44,"y":1.76},{"x":2004.475,"y":2.52},
{"x":2004.52,"y":2.42},{"x":2004.555,"y":1.74},{"x":2004.59,"y":2.85},{"x":2004.625,"y":2.08},{"x":2004.66,"y":1.49},{"x":2004.695,"y":2.59},{"x":2004.73,"y":1.91},{"x":2004.765,"y":3.02},{"x":2004.8,"y":2.25},{"x":2004.835,"y":1.66},{"x":2004.87,"y":2.76},{"x":2004.905,"y":2.0},{"x":2004.94,"y":2.51},{"x":2004.975,"y":1.57},
{"x":2005.02,"y":1.96},{"x":2005.055,"y":2.68},{"x":2005.09,"y":1.56},{"x":2005.125,"y":2.28},{"x":2005.16,"y":2.92},{"x":2005.195,"y":1.8},{"x":2005.23,"y":2.44},{"x":2005.265,"y":2.12},{"x":2005.3,"y":1.48},{"x":2005.335,"y":2.6},{"x":2005.37,"y":1.88},{"x":2005.405,"y":2.84},{"x":2005.44,"y":1.64},{"x":2005.475,"y":2.36},
{"x":2005.52,"y":2.36},{"x":2005.555,"y":1.72},{"x":2005.59,"y":2.76},{"x":2005.625,"y":2.04},{"x":2005.66,"y":1.48},{"x":2005.695,"y":2.52},{"x":2005.73,"y":1.88},{"x":2005.765,"y":2.92},{"x":2005.8,"y":2.2},{"x":2005.835,"y":1.64},{"x":2005.87,"y":2.68},{"x":2005.905,"y":1.96},{"x":2005.94,"y":2.44},{"x":2005.975,"y":1.56},
{"x":2006.02,"y":1.93},{"x":2006.055,"y":2.6},{"x":2006.09,"y":1.55},{"x":2006.125,"y":2.23},{"x":2006.16,"y":2.83},{"x":2006.195,"y":1.78},{"x":2006.23,"y":2.38},{"x":2006.265,"y":2.08},{"x":2006.3,"y":1.48},{"x":2006.335,"y":2.53},{"x":2006.37,"y":1.85},{"x":2006.405,"y":2.75},{"x":2006.44,"y":1.63},{"x":2006.475,"y":2.3},
{"x":2006.52,"y":2.3},{"x":2006.555,"y":1.7},{"x":2006.59,"y":2.68},{"x":2006.625,"y":2.0},{"x":2006.66,"y":1.48},{"x":2006.695,"y":2.45},{"x":2006.73,"y":1.85},{"x":2006.765,"y":2.83},{"x":2006.8,"y":2.15},{"x":2006.835,"y":1.63},{"x":2006.87,"y":2.6},{"x":2006.905,"y":1.93},{"x":2006.94,"y":2.38},{"x":2006.975,"y":1.55},
{"x":2007.02,"y":1.95},{"x":2007.055,"y":2.62},{"x":2007.09,"y":1.52},{"x":2007.125,"y":2.25},{"x":2007.16,"y":2.85},{"x":2007.195,"y":1.75},{"x":2007.23,"y":2.4},{"x":2007.265,"y":2.1},{"x":2007.3,"y":1.45},{"x":2007.335,"y":2.55},{"x":2007.37,"y":1.82},{"x":2007.405,"y":2.72},{"x":2007.44,"y":1.6},{"x":2007.475,"y":2.32},
{"x":2007.52,"y":2.28},{"x":2007.555,"y":1.72},{"x":2007.59,"y":2.7},{"x":2007.625,"y":2.02},{"x":2007.66,"y":1.46},{"x":2007.695,"y":2.47},{"x":2007.73,"y":1.83},{"x":2007.765,"y":2.85},{"x":2007.8,"y":2.13},{"x":2007.835,"y":1.6},{"x":2007.87,"y":2.62},{"x":2007.905,"y":1.9},{"x":2007.94,"y":2.4},{"x":2007.975,"y":1.53},
{"x":2008.02,"y":1.83},{"x":2008.055,"y":2.5},{"x":2008.09,"y":1.45},{"x":2008.125,"y":2.13},{"x":2008.16,"y":2.73},{"x":2008.195,"y":1.68},{"x":2008.23,"y":2.28},{"x":2008.265,"y":1.98},{"x":2008.3,"y":1.38},{"x":2008.335,"y":2.43},{"x":2008.37,"y":1.75},{"x":2008.405,"y":2.65},{"x":2008.44,"y":1.53},{"x":2008.475,"y":2.2},
{"x":2008.52,"y":2.2},{"x":2008.555,"y":1.6},{"x":2008.59,"y":2.58},{"x":2008.625,"y":1.9},{"x":2008.66,"y":1.38},{"x":2008.695,"y":2.35},{"x":2008.73,"y":1.75},{"x":2008.765,"y":2.73},{"x":2008.8,"y":2.05},{"x":2008.835,"y":1.53},{"x":2008.87,"y":2.5},{"x":2008.905,"y":1.83},{"x":2008.94,"y":2.28},{"x":2008.975,"y":1.45},
{"x":2009.02,"y":1.79},{"x":2009.055,"y":2.42},{"x":2009.09,"y":1.44},{"x":2009.125,"y":2.07},{"x":2009.16,"y":2.63},{"x":2009.195,"y":1.65},{"x":2009.23,"y":2.21},{"x":2009.265,"y":1.93},{"x":2009.3,"y":1.37},{"x":2009.335,"y":2.35},{"x":2009.37,"y":1.72},{"x":2009.405,"y":2.56},{"x":2009.44,"y":1.51},{"x":2009.475,"y":2.14},
{"x":2009.52,"y":2.14},{"x":2009.555,"y":1.58},{"x":2009.59,"y":2.49},{"x":2009.625,"y":1.86},{"x":2009.66,"y":1.37},{"x":2009.695,"y":2.28},{"x":2009.73,"y":1.72},{"x":2009.765,"y":2.63},{"x":2009.8,"y":2.0},{"x":2009.835,"y":1.51},{"x":2009.87,"y":2.42},{"x":2009.905,"y":1.79},{"x":2009.94,"y":2.21},{"x":2009.975,"y":1.44},
{"x":2010.02,"y":1.93},{"x":2010.055,"y":2.6},{"x":2010.09,"y":1.55},{"x":2010.125,"y":2.23},{"x":2010.16,"y":2.83},{"x":2010.195,"y":1.78},{"x":2010.23,"y":2.38},{"x":2010.265,"y":2.08},{"x":2010.3,"y":1.48},{"x":2010.335,"y":2.53},{"x":2010.37,"y":1.85},{"x":2010.405,"y":2.75},{"x":2010.44,"y":1.63},{"x":2010.475,"y":2.3},
{"x":2010.52,"y":2.3},{"x":2010.555,"y":1.7},{"x":2010.59,"y":2.68},{"x":2010.625,"y":2.0},{"x":2010.66,"y":1.48},{"x":2010.695,"y":2.45},{"x":2010.73,"y":1.85},{"x":2010.765,"y":2.83},{"x":2010.8,"y":2.15},{"x":2010.835,"y":1.63},{"x":2010.87,"y":2.6},{"x":2010.905,"y":1.93},{"x":2010.94,"y":2.38},{"x":2010.975,"y":1.55},
{"x":2011.02,"y":2.06},{"x":2011.055,"y":2.78},{"x":2011.09,"y":1.66},{"x":2011.125,"y":2.38},{"x":2011.16,"y":3.02},{"x":2011.195,"y":1.9},{"x":2011.23,"y":2.54},{"x":2011.265,"y":2.22},{"x":2011.3,"y":1.58},{"x":2011.335,"y":2.7},{"x":2011.37,"y":1.98},{"x":2011.405,"y":2.94},{"x":2011.44,"y":1.74},{"x":2011.475,"y":2.46},
{"x":2011.52,"y":2.46},{"x":2011.555,"y":1.82},{"x":2011.59,"y":2.86},{"x":2011.625,"y":2.14},{"x":2011.66,"y":1.58},{"x":2011.695,"y":2.62},{"x":2011.73,"y":1.98},{"x":2011.765,"y":3.02},{"x":2011.8,"y":2.3},{"x":2011.835,"y":1.74},{"x":2011.87,"y":2.78},{"x":2011.905,"y":2.06},{"x":2011.94,"y":2.54},{"x":2011.975,"y":1.66},
{"x":1996.037,"y":4.7},{"x":1996.072,"y":3.68},{"x":1996.107,"y":5.38},{"x":1996.142,"y":4.36},{"x":1996.212,"y":5.04},{"x":1996.247,"y":4.02},{"x":1996.317,"y":5.89},{"x":1996.352,"y":4.53},{"x":1996.422,"y":3.51},{"x":1996.457,"y":4.87},
{"x":1996.537,"y":4.4},{"x":1996.572,"y":3.44},{"x":1996.607,"y":5.04},{"x":1996.642,"y":4.08},{"x":1996.712,"y":4.72},{"x":1996.747,"y":3.76},{"x":1996.817,"y":5.52},{"x":1996.852,"y":4.24},{"x":1996.922,"y":3.28},{"x":1996.957,"y":4.56},
{"x":1997.037,"y":4.1},{"x":1997.072,"y":3.2},{"x":1997.107,"y":4.7},{"x":1997.142,"y":3.8},{"x":1997.212,"y":4.4},{"x":1997.247,"y":3.5},{"x":1997.317,"y":5.15},{"x":1997.352,"y":3.95},{"x":1997.422,"y":3.05},{"x":1997.457,"y":4.25},
{"x":1997.537,"y":3.6},{"x":1997.572,"y":2.76},{"x":1997.607,"y":4.16},{"x":1997.642,"y":3.32},{"x":1997.712,"y":3.88},{"x":1997.747,"y":3.04},{"x":1997.817,"y":4.58},{"x":1997.852,"y":3.46},{"x":1997.922,"y":2.62},{"x":1997.957,"y":3.74},
{"x":1998.037,"y":3.25},{"x":1998.072,"y":2.44},{"x":1998.107,"y":3.79},{"x":1998.142,"y":2.98},{"x":1998.212,"y":3.52},{"x":1998.247,"y":2.71},{"x":1998.317,"y":4.2},{"x":1998.352,"y":3.12},{"x":1998.422,"y":2.31},{"x":1998.457,"y":3.39},
{"x":1998.537,"y":3.5},{"x":1998.572,"y":2.6},{"x":1998.607,"y":4.1},{"x":1998.642,"y":3.2},{"x":1998.712,"y":3.8},{"x":1998.747,"y":2.9},{"x":1998.817,"y":4.55},{"x":1998.852,"y":3.35},{"x":1998.922,"y":2.45},{"x":1998.957,"y":3.65},
{"x":1999.037,"y":3.6},{"x":1999.072,"y":2.76},{"x":1999.107,"y":4.16},{"x":1999.142,"y":3.32},{"x":1999.212,"y":3.88},{"x":1999.247,"y":3.04},{"x":1999.317,"y":4.58},{"x":1999.352,"y":3.46},{"x":1999.422,"y":2.62},{"x":1999.457,"y":3.74},
{"x":1999.537,"y":3.5},{"x":1999.572,"y":2.6},{"x":1999.607,"y":4.1},{"x":1999.642,"y":3.2},{"x":1999.712,"y":3.8},{"x":1999.747,"y":2.9},{"x":1999.817,"y":4.55},{"x":1999.852,"y":3.35},{"x":1999.922,"y":2.45},{"x":1999.957,"y":3.65},
{"x":2000.037,"y":3.2},{"x":2000.072,"y":2.36},{"x":2000.107,"y":3.76},{"x":2000.142,"y":2.92},{"x":2000.212,"y":3.48},{"x":2000.247,"y":2.64},{"x":2000.317,"y":4.18},{"x":2000.352,"y":3.06},{"x":2000.422,"y":2.22},{"x":2000.457,"y":3.34},
{"x":2000.537,"y":3.05},{"x":2000.572,"y":2.3},{"x":2000.607,"y":3.55},{"x":2000.642,"y":2.8},{"x":2000.712,"y":3.3},{"x":2000.747,"y":2.55},{"x":2000.817,"y":3.93},{"x":2000.852,"y":2.93},{"x":2000.922,"y":2.18},{"x":2000.957,"y":3.18},
{"x":2001.037,"y":3.1},{"x":2001.072,"y":2.38},{"x":2001.107,"y":3.58},{"x":2001.142,"y":2.86},{"x":2001.212,"y":3.34},{"x":2001.247,"y":2.62},{"x":2001.317,"y":3.94},{"x":2001.352,"y":2.98},{"x":2001.422,"y":2.26},{"x":2001.457,"y":3.22},
{"x":2001.537,"y":3.0},{"x":2001.572,"y":2.28},{"x":2001.607,"y":3.48},{"x":2001.642,"y":2.76},{"x":2001.712,"y":3.24},{"x":2001.747,"y":2.52},{"x":2001.817,"y":3.84},{"x":2001.852,"y":2.88},{"x":2001.922,"y":2.16},{"x":2001.957,"y":3.12},
{"x":2002.037,"y":2.95},{"x":2002.072,"y":2.2},{"x":2002.107,"y":3.45},{"x":2002.142,"y":2.7},{"x":2002.212,"y":3.2},{"x":2002.247,"y":2.45},{"x":2002.317,"y":3.83},{"x":2002.352,"y":2.83},{"x":2002.422,"y":2.08},{"x":2002.457,"y":3.08},
{"x":2002.537,"y":2.7},{"x":2002.572,"y":2.04},{"x":2002.607,"y":3.14},{"x":2002.642,"y":2.48},{"x":2002.712,"y":2.92},{"x":2002.747,"y":2.26},{"x":2002.817,"y":3.47},{"x":2002.852,"y":2.59},{"x":2002.922,"y":1.93},{"x":2002.957,"y":2.81},
{"x":2003.037,"y":2.6},{"x":2003.072,"y":2.0},{"x":2003.107,"y":3.0},{"x":2003.142,"y":2.4},{"x":2003.212,"y":2.8},{"x":2003.247,"y":2.2},{"x":2003.317,"y":3.3},{"x":2003.352,"y":2.5},{"x":2003.422,"y":1.9},{"x":2003.457,"y":2.7},
{"x":2003.537,"y":2.5},{"x":2003.572,"y":1.9},{"x":2003.607,"y":2.9},{"x":2003.642,"y":2.3},{"x":2003.712,"y":2.7},{"x":2003.747,"y":2.1},{"x":2003.817,"y":3.2},{"x":2003.852,"y":2.4},{"x":2003.922,"y":1.8},{"x":2003.957,"y":2.6},
{"x":2004.037,"y":2.35},{"x":2004.072,"y":1.84},{"x":2004.107,"y":2.69},{"x":2004.142,"y":2.18},{"x":2004.212,"y":2.52},{"x":2004.247,"y":2.01},{"x":2004.317,"y":2.95},{"x":2004.352,"y":2.27},{"x":2004.422,"y":1.76},{"x":2004.457,"y":2.44},
{"x":2004.537,"y":2.25},{"x":2004.572,"y":1.74},{"x":2004.607,"y":2.59},{"x":2004.642,"y":2.08},{"x":2004.712,"y":2.42},{"x":2004.747,"y":1.91},{"x":2004.817,"y":2.85},{"x":2004.852,"y":2.17},{"x":2004.922,"y":1.66},{"x":2004.957,"y":2.34},
{"x":2005.037,"y":2.2},{"x":2005.072,"y":1.72},{"x":2005.107,"y":2.52},{"x":2005.142,"y":2.04},{"x":2005.212,"y":2.36},{"x":2005.247,"y":1.88},{"x":2005.317,"y":2.76},{"x":2005.352,"y":2.12},{"x":2005.422,"y":1.64},{"x":2005.457,"y":2.28},
{"x":2005.537,"y":2.2},{"x":2005.572,"y":1.72},{"x":2005.607,"y":2.52},{"x":2005.642,"y":2.04},{"x":2005.712,"y":2.36},{"x":2005.747,"y":1.88},{"x":2005.817,"y":2.76},{"x":2005.852,"y":2.12},{"x":2005.922,"y":1.64},{"x":2005.957,"y":2.28},
{"x":2006.037,"y":2.15},{"x":2006.072,"y":1.7},{"x":2006.107,"y":2.45},{"x":2006.142,"y":2.0},{"x":2006.212,"y":2.3},{"x":2006.247,"y":1.85},{"x":2006.317,"y":2.68},{"x":2006.352,"y":2.08},{"x":2006.422,"y":1.63},{"x":2006.457,"y":2.23},
{"x":2006.537,"y":2.15},{"x":2006.572,"y":1.7},{"x":2006.607,"y":2.45},{"x":2006.642,"y":2.0},{"x":2006.712,"y":2.3},{"x":2006.747,"y":1.85},{"x":2006.817,"y":2.68},{"x":2006.852,"y":2.08},{"x":2006.922,"y":1.63},{"x":2006.957,"y":2.23},
{"x":2007.037,"y":2.15},{"x":2007.072,"y":1.7},{"x":2007.107,"y":2.45},{"x":2007.142,"y":2.0},{"x":2007.212,"y":2.3},{"x":2007.247,"y":1.85},{"x":2007.317,"y":2.68},{"x":2007.352,"y":2.08},{"x":2007.422,"y":1.63},{"x":2007.457,"y":2.23},
{"x":2007.537,"y":2.15},{"x":2007.572,"y":1.7},{"x":2007.607,"y":2.45},{"x":2007.642,"y":2.0},{"x":2007.712,"y":2.3},{"x":2007.747,"y":1.85},{"x":2007.817,"y":2.68},{"x":2007.852,"y":2.08},{"x":2007.922,"y":1.63},{"x":2007.957,"y":2.23},
{"x":2008.037,"y":2.05},{"x":2008.072,"y":1.6},{"x":2008.107,"y":2.35},{"x":2008.142,"y":1.9},{"x":2008.212,"y":2.2},{"x":2008.247,"y":1.75},{"x":2008.317,"y":2.58},{"x":2008.352,"y":1.98},{"x":2008.422,"y":1.53},{"x":2008.457,"y":2.13},
{"x":2008.537,"y":2.05},{"x":2008.572,"y":1.6},{"x":2008.607,"y":2.35},{"x":2008.642,"y":1.9},{"x":2008.712,"y":2.2},{"x":2008.747,"y":1.75},{"x":2008.817,"y":2.58},{"x":2008.852,"y":1.98},{"x":2008.922,"y":1.53},{"x":2008.957,"y":2.13},
{"x":2009.037,"y":2.0},{"x":2009.072,"y":1.58},{"x":2009.107,"y":2.28},{"x":2009.142,"y":1.86},{"x":2009.212,"y":2.14},{"x":2009.247,"y":1.72},{"x":2009.317,"y":2.49},{"x":2009.352,"y":1.93},{"x":2009.422,"y":1.51},{"x":2009.457,"y":2.07},
{"x":2009.537,"y":2.0},{"x":2009.572,"y":1.58},{"x":2009.607,"y":2.28},{"x":2009.642,"y":1.86},{"x":2009.712,"y":2.14},{"x":2009.747,"y":1.72},{"x":2009.817,"y":2.49},{"x":2009.852,"y":1.93},{"x":2009.922,"y":1.51},{"x":2009.957,"y":2.07},
{"x":2010.037,"y":2.15},{"x":2010.072,"y":1.7},{"x":2010.107,"y":2.45},{"x":2010.142,"y":2.0},{"x":2010.212,"y":2.3},{"x":2010.247,"y":1.85},{"x":2010.317,"y":2.68},{"x":2010.352,"y":2.08},{"x":2010.422,"y":1.63},{"x":2010.457,"y":2.23},
{"x":2010.537,"y":2.15},{"x":2010.572,"y":1.7},{"x":2010.607,"y":2.45},{"x":2010.642,"y":2.0},{"x":2010.712,"y":2.3},{"x":2010.747,"y":1.85},{"x":2010.817,"y":2.68},{"x":2010.852,"y":2.08},{"x":2010.922,"y":1.63},{"x":2010.957,"y":2.23},
{"x":2011.037,"y":2.3},{"x":2011.072,"y":1.82},{"x":2011.107,"y":2.62},{"x":2011.142,"y":2.14},{"x":2011.212,"y":2.46},{"x":2011.247,"y":1.98},{"x":2011.317,"y":2.86},{"x":2011.352,"y":2.22},{"x":2011.422,"y":1.74},{"x":2011.457,"y":2.38},
{"x":2011.537,"y":2.3},{"x":2011.572,"y":1.82},{"x":2011.607,"y":2.62},{"x":2011.642,"y":2.14},{"x":2011.712,"y":2.46},{"x":2011.747,"y":1.98},{"x":2011.817,"y":2.86},{"x":2011.852,"y":2.22},{"x":2011.922,"y":1.74},{"x":2011.957,"y":2.38}
]},
"encoding":{
"x":{"field":"x","type":"quantitative","title":"Year",
"scale":{"domain":[1992,2012],"nice":false,"zero":false},
"axis":{"values":[1992,1993,1994,1995,1996,1997,1998,1999,2000,2001,2002,2003,2004,2005,2006,2007,2008,2009,2010,2011,2012],
"labelExpr":"datum.value % 4 === 0 ? datum.label : ''","format":"d","labelOverlap":false,"labelFlush":false,
"grid":true,"gridColor":"#888888","gridDash":[3,3],"gridWidth":1,"domain":false,
"ticks":true,"tickSize":-8,"tickColor":"black","tickWidth":1.5,"labelPadding":16,
"labelFont":"Liberation Sans","labelFontWeight":"bold","labelFontSize":33,"labelColor":"black",
"titleFont":"Liberation Sans","titleFontWeight":"bold","titleFontSize":33,"titleColor":"black",
"titleY":66,"titleBaseline":"alphabetic"}},
"y":{"field":"y","type":"quantitative","title":["Daily Median of 3D","Orbit Precision (cm)"],
"scale":{"domain":[0,30],"nice":false},
"axis":{"values":[0,5,10,15,20,25,30],"grid":true,"gridColor":"#222222","gridDash":[3,2],"gridWidth":1,"domain":false,
"ticks":true,"tickSize":-10,"tickColor":"black","tickWidth":1.5,"labelPadding":16,"labelOffset":-9,
"labelFont":"Liberation Sans","labelFontWeight":"bold","labelFontSize":33,"labelColor":"black",
"titleFont":"Liberation Sans","titleFontWeight":"bold","titleFontSize":33,"titleColor":"black",
"titleX":-104,"titleY":375,"titleAngle":-90,"titleAlign":"left","titleBaseline":"alphabetic","titleLineHeight":35}}
},
"layer":[
{"data":{"name":"r"},"mark":{"type":"circle","size":40,"opacity":1},
"encoding":{"color":{"datum":"IGS05 Products","type":"nominal",
"scale":{"domain":["IGS05 Products","IGS08 Products"],"range":["#ff0000","#0000cc"]},
"legend":{"orient":"none","legendX":417,"legendY":26,"title":null,"fillColor":"white","strokeColor":"black",
"padding":10,"symbolOffset":27,"labelOffset":26,"symbolType":"circle","symbolSize":25,"rowPadding":-3,
"labelFont":"Liberation Sans","labelFontWeight":"bold","labelFontSize":33,"labelLimit":400,
"labelColor":{"expr":"datum.value === 'IGS05 Products' ? '#ff0000' : '#0000cc'"}}}}},
{"data":{"name":"b"},"mark":{"type":"circle","size":40,"opacity":1},
"encoding":{"color":{"datum":"IGS08 Products","type":"nominal"}}}
]
}
